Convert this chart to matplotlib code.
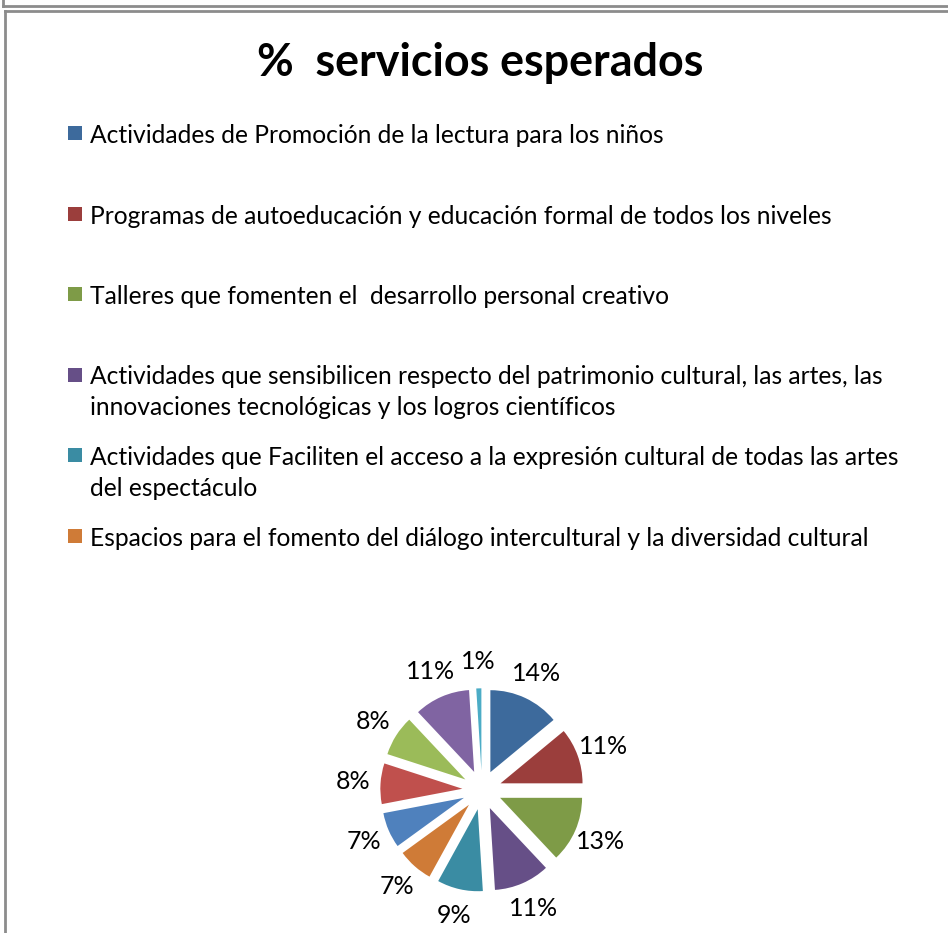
import matplotlib
matplotlib.use("Agg")
import matplotlib.pyplot as plt
from matplotlib.patches import Rectangle
from matplotlib.lines import Line2D

plt.rcParams['font.family'] = ['Lato', 'DejaVu Sans']

# ---------------- data ----------------
title = "%  servicios esperados"
legend_labels = [
    "Actividades de Promoción de la lectura para los niños",
    "Programas de autoeducación y educación formal de todos los niveles",
    "Talleres que fomenten el  desarrollo personal creativo",
    "Actividades que sensibilicen respecto del patrimonio cultural, las artes, las\n"
    "innovaciones tecnológicas y los logros científicos",
    "Actividades que Faciliten el acceso a la expresión cultural de todas las artes\n"
    "del espectáculo",
    "Espacios para el fomento del diálogo intercultural y la diversidad cultural",
]
shares = [14, 11, 13, 11, 9, 7, 7, 8, 8, 11, 1]
slice_colors = ["#3d6a9c", "#9b3e3c", "#7e9b47", "#664f87", "#3a8ca3", "#cf7b37",
                "#4f81bd", "#c0504d", "#9bbb59", "#8064a2", "#4bacc6"]

W, H = 948, 933
fig = plt.figure(figsize=(W / 100, H / 100), dpi=100)

# chart frame (Excel style border, partly cut by the image edge)
frame = dict(color="#8c8c8c", lw=2, transform=fig.transFigure)
fig.add_artist(Line2D([3 / W, 1], [1 - 6 / H, 1 - 6 / H], **frame))
fig.add_artist(Line2D([3 / W, 3 / W], [1, 1 - 6 / H], **frame))
fig.add_artist(Line2D([5 / W, 1], [1 - 11 / H, 1 - 11 / H], **frame))
fig.add_artist(Line2D([5 / W, 5 / W], [1 - 11 / H, 0], **frame))

fig.text(480 / W, 1 - 63 / H, title, ha="center", va="center",
         fontsize=32.3, fontweight="bold")

# legend drawn by hand, one row every ~80 px
for i, lab in enumerate(legend_labels):
    y = 133 + i * 80.5
    fig.add_artist(Rectangle((68 / W, 1 - (y + 7) / H), 14 / W, 14 / H,
                             transform=fig.transFigure,
                             color=slice_colors[i], lw=0))
    fig.text(90 / W, 1 - (y - 9) / H, lab, ha="left", va="top",
             fontsize=17.7, linespacing=1.4)

# pie
R = 82
half = 1.7
cx, cy = 482, 790
ax = fig.add_axes([(cx - half * R) / W, (H - cy - half * R) / H,
                   2 * half * R / W, 2 * half * R / H])
wedges, texts, autotexts = ax.pie(
    shares, colors=slice_colors, startangle=90, counterclock=False,
    explode=[0.24] * len(shares), autopct=lambda p: f"{p:.0f}%",
    pctdistance=1.33, wedgeprops=dict(linewidth=0),
    textprops=dict(fontsize=18, color="black"))
ax.set_xlim(-half, half)
ax.set_ylim(-half, half)
ax.set_aspect("equal")
ax.axis("off")

fig.savefig("out.png", dpi=100)
